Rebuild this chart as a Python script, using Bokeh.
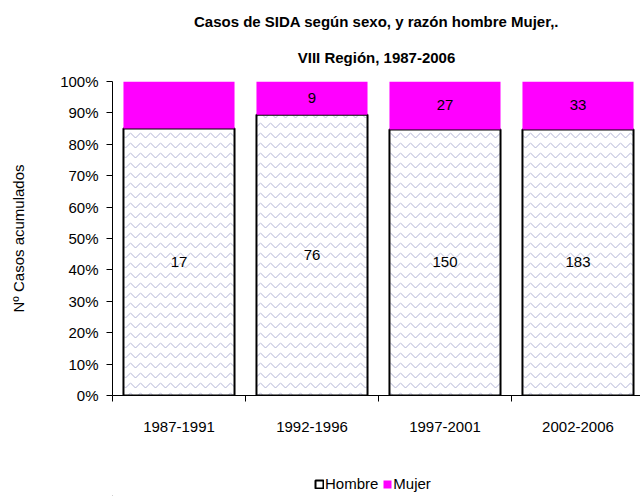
from bokeh.plotting import figure
from bokeh.models import (ColumnDataSource, FixedTicker, NumeralTickFormatter, Range1d,
                          Legend, LegendItem, LabelSet, Title)
from bokeh.layouts import column
from bokeh.core.properties import value
from bokeh.embed import file_html
from bokeh.resources import INLINE

periods = ["1987-1991", "1992-1996", "1997-2001", "2002-2006"]
hombre = [17, 76, 150, 183]
mujer = [3, 9, 27, 33]
hombre_labels = ["17", "76", "150", "183"]
mujer_labels = ["", "9", "27", "33"]
y_ticks = [0, 0.1, 0.2, 0.3, 0.4, 0.5, 0.6, 0.7, 0.8, 0.9, 1.0]
title_lines = ["Casos de SIDA según sexo, y razón hombre Mujer,.", "VIII Región, 1987-2006"]
series_names = ["Hombre", "Mujer"]

x = list(range(len(periods)))
tot = [h + m for h, m in zip(hombre, mujer)]
h_frac = [h / t for h, t in zip(hombre, tot)]
src = ColumnDataSource(dict(
    x=x, zero=[0] * len(x), h_top=h_frac, one=[1] * len(x),
    h_mid=[f / 2 for f in h_frac], m_mid=[(f + 1) / 2 for f in h_frac],
    h_lab=hombre_labels, m_lab=mujer_labels,
))

FONT = "Liberation Sans"
HATCH = dict(hatch_pattern="horizontal_wave", hatch_color="#b0b2d4", hatch_scale=10, hatch_weight=1)

p = figure(width=640, height=460, output_backend="svg", toolbar_location=None,
           x_range=Range1d(-0.5, 3.47), y_range=Range1d(0, 1),
           min_border_left=112, min_border_right=0, min_border_top=81, min_border_bottom=65)
p.title.text = title_lines[0]
p.title.align = "center"
p.title.text_font = FONT
p.title.text_font_size = "15px"
p.title.text_font_style = "bold"
p.title.text_color = "black"
p.title.standoff = 2
t2 = Title(text=title_lines[1], align="center", text_font=FONT, text_font_size="15px",
           text_font_style="bold", text_color="black", standoff=32)
p.add_layout(t2, "above")

p.outline_line_color = None
p.xgrid.grid_line_color = None
p.ygrid.grid_line_color = None

p.vbar(x="x", bottom="zero", top="h_top", width=0.835, source=src,
       fill_color="white", line_color="black", line_width=2, **HATCH)
p.vbar(x="x", bottom="h_top", top="one", width=0.835, source=src,
       fill_color="#ff00ff", line_color=None)

for ycol, lcol in (("h_mid", "h_lab"), ("m_mid", "m_lab")):
    p.add_layout(LabelSet(x="x", y=ycol, text=lcol, source=src,
                          text_align="center", text_baseline="middle",
                          text_font=value(FONT), text_font_size=value("15px"),
                          text_color="black"))

# y axis
p.yaxis.ticker = FixedTicker(ticks=y_ticks)
p.yaxis.formatter = NumeralTickFormatter(format="0%")
p.yaxis.major_tick_out = 6
p.yaxis.major_tick_in = 0
p.yaxis.minor_tick_line_color = None
p.yaxis.major_label_text_font = FONT
p.yaxis.major_label_text_font_size = "15px"
p.yaxis.major_label_text_color = "black"
p.yaxis.major_label_standoff = 8
p.yaxis.axis_label = "Nº Casos acumulados"
p.yaxis.axis_label_text_font = FONT
p.yaxis.axis_label_text_font_size = "15px"
p.yaxis.axis_label_text_font_style = "normal"
p.yaxis.axis_label_text_color = "black"
p.yaxis.axis_label_standoff = 30

# x axis
p.xaxis.ticker = FixedTicker(ticks=x, minor_ticks=[-0.5, 0.5, 1.5, 2.5, 3.5])
p.xaxis.major_label_overrides = {i: s for i, s in zip(x, periods)}
p.xaxis.major_tick_line_color = None
p.xaxis.major_tick_out = 0
p.xaxis.major_tick_in = 0
p.xaxis.minor_tick_out = 6
p.xaxis.minor_tick_in = 0
p.xaxis.major_label_text_font = FONT
p.xaxis.major_label_text_font_size = "15px"
p.xaxis.major_label_text_color = "black"
p.xaxis.major_label_standoff = 20

# legend in its own strip below the chart (legend keys only; kept outside the view)
lg = figure(width=640, height=36, output_backend="svg", toolbar_location=None,
            x_axis_type=None, y_axis_type=None, x_range=Range1d(0, 1), y_range=Range1d(0, 1),
            min_border=0)
lg.outline_line_color = None
lg.xgrid.grid_line_color = None
lg.ygrid.grid_line_color = None
key_src = ColumnDataSource(dict(x=[-5], b=[-5], t=[-4]))
k_h = lg.vbar(x="x", bottom="b", top="t", width=1, source=key_src,
              fill_color="white", line_color="black", line_width=2)
k_m = lg.vbar(x="x", bottom="b", top="t", width=1, source=key_src,
              fill_color="#ff00ff", line_color=None)
legend = Legend(items=[LegendItem(label=series_names[0], renderers=[k_h]),
                       LegendItem(label=series_names[1], renderers=[k_m])],
                orientation="horizontal", location=(202, 4),
                glyph_width=10, glyph_height=10, label_standoff=1, spacing=4,
                padding=0, margin=0, border_line_color=None, background_fill_alpha=0,
                label_text_font=FONT, label_text_font_size="15px",
                label_text_color="black", label_height=14)
lg.add_layout(legend, "center")

layout = column(p, lg, spacing=0)
open("out.html", "w").write(file_html(layout, INLINE))
